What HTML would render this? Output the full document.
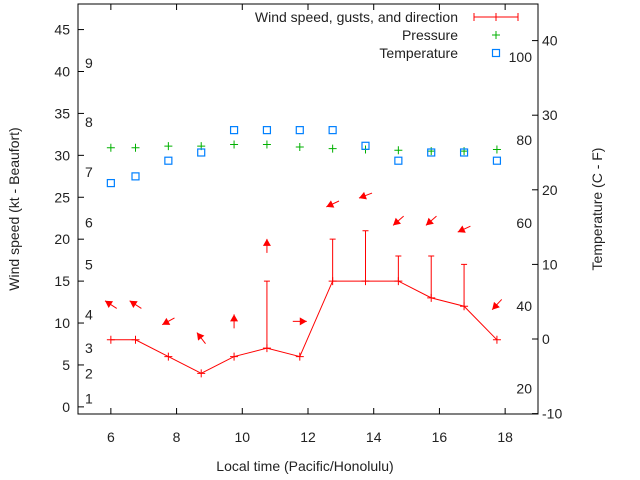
<!DOCTYPE html>
<html><head><meta charset="utf-8"><style>
body{margin:0;background:#fff}
svg{font-family:"Liberation Sans",sans-serif;display:block}
</style></head><body>
<svg id="c" width="640" height="480"></svg>
<script>
const times=[6,6.75,7.75,8.75,9.75,10.75,11.75,12.75,13.75,14.75,15.75,16.75,17.75];
const wind=[8,8,6,4,6,7,6,15,15,15,13,12,8];
const gust=[null,null,null,null,null,15,null,20,21,18,18,17,null];
const dirTo=[303,303,241,322,0,0,90,245,249,229,229,245,223];
const pressure=[30.9,30.9,31.1,31.1,31.3,31.3,31.0,30.8,30.7,30.6,30.5,30.5,30.7];
const tempC=[20.9,21.8,23.9,25,28,28,28,28,25.9,23.9,25,25,23.9];
const xTicks=[6,8,10,12,14,16,18];
const yTicks=[0,5,10,15,20,25,30,35,40,45];
const y2Ticks=[-10,0,10,20,30,40];
const fTicks=[20,40,60,80,100];
const bft=[[1,1],[2,4],[3,7],[4,11],[5,17],[6,22],[7,28],[8,34],[9,41]];
const L=78,R=538,T=4,B=414;
const X=v=>L+(v-5)/14*(R-L);
const Y=v=>B-(v+0.85)/48.9*(B-T);
const Y2=v=>339-v*7.46;
const svg=document.getElementById('c');const NS='http://www.w3.org/2000/svg';
function el(t,a,p){const e=document.createElementNS(NS,t);for(const k in a)e.setAttribute(k,a[k]);(p||svg).appendChild(e);return e;}
function txt(s,a,name){const e=el('text',Object.assign({'font-size':14,fill:'#222'},a));e.textContent=s;

return e;}
const frame=el('rect',{x:L,y:T,width:R-L,height:B-T,fill:'none',stroke:'#000'});


xTicks.forEach(v=>{el('line',{x1:X(v),x2:X(v),y1:B,y2:B-6,stroke:'#000'});el('line',{x1:X(v),x2:X(v),y1:T,y2:T+6,stroke:'#000'});
txt(v,{x:X(v),y:B+28,'text-anchor':'middle'},'x-tick-label');});
yTicks.forEach(v=>{el('line',{x1:L,x2:L+6,y1:Y(v),y2:Y(v),stroke:'#000'});
txt(v,{x:L-8,y:Y(v)+5,'text-anchor':'end'},'y-tick-label');});
y2Ticks.forEach(v=>{el('line',{x1:R,x2:R-6,y1:Y2(v),y2:Y2(v),stroke:'#000'});
txt(v,{x:R+4,y:Y2(v)+5},'y2-tick-label');});
fTicks.forEach(f=>{txt(f,{x:R-6,y:Y2((f-32)/1.8)+5,'text-anchor':'end'},'fahrenheit-label');});
bft.forEach(b=>{txt(b[0],{x:85,y:Y(b[1])+5},'beaufort-label');});
txt('Local time (Pacific/Honolulu)',{x:305,y:471,'text-anchor':'middle'},'x-axis-title');
txt('Wind speed (kt - Beaufort)',{x:0,y:0,'text-anchor':'middle',transform:'translate(19,209) rotate(-90)'},'y-axis-title');
txt('Temperature (C - F)',{x:0,y:0,'text-anchor':'middle',transform:'translate(602,209) rotate(-90)'},'y2-axis-title');
const red='#f00';
function plus(x,y,c){el('path',{d:`M${x-4} ${y}h8M${x} ${y-4}v8`,stroke:c,'stroke-width':1});}
// wind line
const wl=el('polyline',{points:times.map((t,i)=>X(t)+','+Y(wind[i])).join(' '),fill:'none',stroke:red});


times.forEach((t,i)=>{plus(X(t),Y(wind[i]),red);
if(gust[i]!=null){const g=el('path',{d:`M${X(t)} ${Y(wind[i])}V${Y(gust[i])}M${X(t)-3} ${Y(gust[i])}h6`,stroke:red});

}
const top=Math.max(wind[i],gust[i]||0)+4.2;const cx=X(t),cy=Y(top);
const a=dirTo[i]*Math.PI/180,dx=Math.sin(a),dy=-Math.cos(a);
const hx=cx+dx*7,hy=cy+dy*7,tx=cx-dx*7,ty=cy-dy*7;
const px=-dy,py=dx;
const g=el('g',{});


el('line',{x1:tx,y1:ty,x2:hx,y2:hy,stroke:red},g);
el('polygon',{points:`${hx},${hy} ${hx-dx*7+px*4},${hy-dy*7+py*4} ${hx-dx*7-px*4},${hy-dy*7-py*4}`,fill:red},g);
plus(X(t),Y(pressure[i]),'#00b000');
const s=el('rect',{x:X(t)-3.5,y:Y2(tempC[i])-3.5,width:7,height:7,fill:'none',stroke:'#0080ff','stroke-width':1.2});


});
// legend
const lg=[['Wind speed, gusts, and direction',17],['Pressure',35],['Temperature',53]];
txt(lg[0][0],{x:458,y:lg[0][1]+5,'text-anchor':'end'},'legend-wind');
el('path',{d:'M474 17H518M474 13v8M518 13v8',stroke:red});plus(496,17,red);
txt(lg[1][0],{x:458,y:lg[1][1]+5,'text-anchor':'end'},'legend-pressure');plus(496,35,'#00b000');
txt(lg[2][0],{x:458,y:lg[2][1]+5,'text-anchor':'end'},'legend-temperature');
el('rect',{x:492.5,y:49.5,width:7,height:7,fill:'none',stroke:'#0080ff','stroke-width':1.2});
</script>
</body></html>
